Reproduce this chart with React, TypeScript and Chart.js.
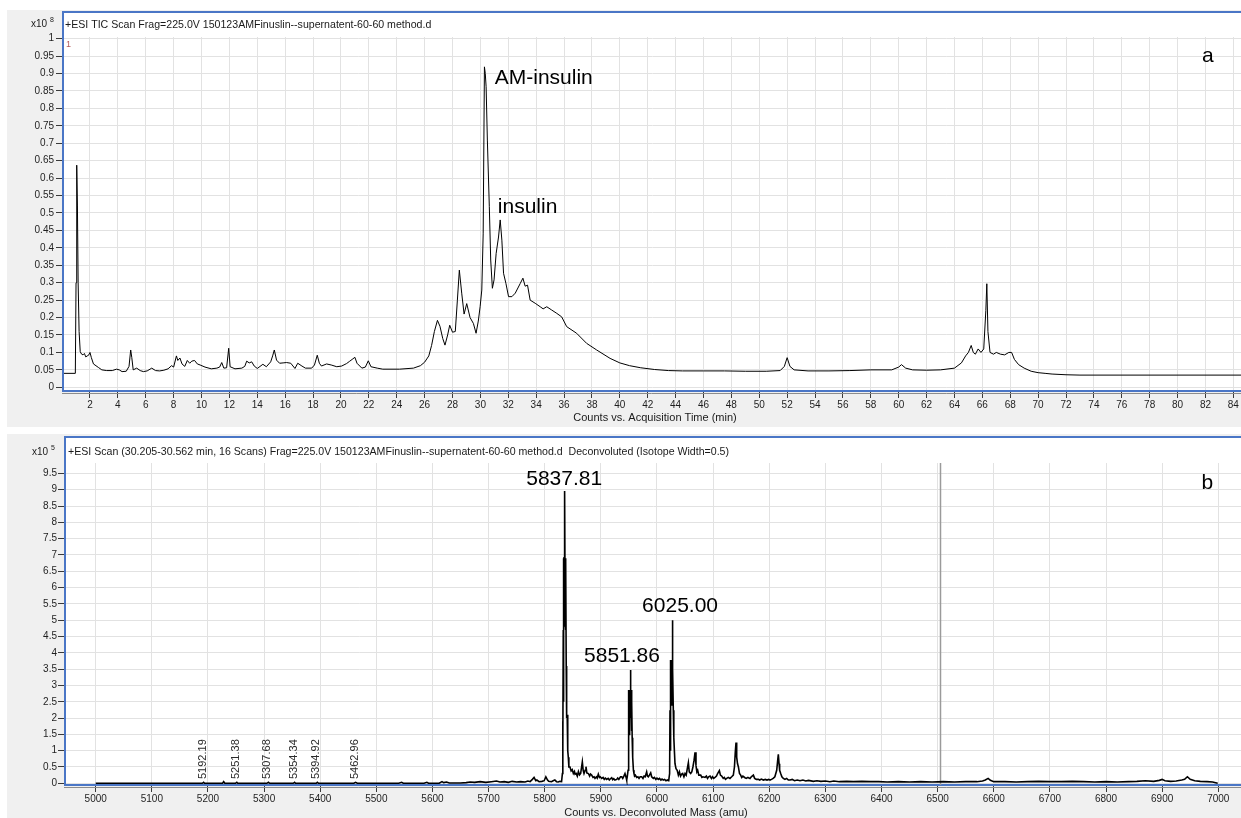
import React, { useEffect, useRef } from 'react';
import { Chart, registerables } from 'chart.js';

Chart.register(...registerables);

const FONT = '"Liberation Sans", Arial, Helvetica, sans-serif';
const BLUE = '#4a76c6';
const GRID = '#e2e2e2';
const PANEL_BG = '#f0f0f0';

// ---------- Panel a : TIC chromatogram (counts x10^8 vs time, min)
const ticTimes = [
  0, 0.95, 1.0, 1.05, 1.1, 1.15, 1.22, 1.3, 1.4, 1.5, 1.6, 1.7, 1.8, 1.9, 2.0, 2.1, 2.25, 2.6, 2.85, 3.2,
  3.6, 3.9, 4.1, 4.3, 4.6, 4.8, 4.92, 5.0, 5.1, 5.35, 5.6, 5.83, 6.1, 6.43, 6.7, 7.0, 7.3, 7.6, 7.85, 8.0,
  8.2, 8.3, 8.45, 8.6, 8.8, 8.98, 9.15, 9.3, 9.5, 9.7, 9.9, 10.25, 10.7, 11.1, 11.3, 11.45, 11.6, 11.8, 11.95, 12.05,
  12.4, 12.89, 13.1, 13.24, 13.42, 13.6, 13.78, 14.0, 14.4, 14.65, 14.96, 15.1, 15.22, 15.38, 15.6, 15.85, 16.1, 16.4, 16.7, 16.9,
  17.2, 17.45, 17.9, 18.1, 18.3, 18.45, 18.6, 18.97, 19.3, 19.7, 20.05, 20.4, 20.6, 20.8, 21.0, 21.15, 21.5, 21.75, 21.96, 22.15,
  22.6, 23.0, 24.2, 25.2, 25.7, 26.0, 26.3, 26.5, 26.7, 26.92, 27.1, 27.3, 27.46, 27.65, 27.8, 28.0, 28.2, 28.35, 28.49, 28.66,
  28.83, 29.02, 29.26, 29.5, 29.69, 29.85, 29.98, 30.1, 30.2, 30.29, 30.35, 30.41, 30.5, 30.64, 30.74, 30.86, 30.98, 31.13, 31.3, 31.42,
  31.54, 31.66, 31.83, 32.02, 32.26, 32.5, 32.86, 33.05, 33.21, 33.38, 33.57, 33.93, 34.29, 34.5, 34.76, 35.1, 35.48, 35.83, 36.19, 36.9,
  37.62, 38.34, 39.3, 40.0, 40.7, 41.5, 42.5, 43.5, 44.5, 46.0, 47.5, 49.0, 50.5, 51.5, 51.8, 52.0, 52.2, 52.5, 53.5, 55.0,
  56.5, 58.0, 59.5, 60.0, 60.2, 60.5, 61.0, 62.0, 63.0, 64.0, 64.5, 64.8, 65.0, 65.2, 65.35, 65.5, 65.7, 65.9, 66.1, 66.25,
  66.32, 66.4, 66.55, 66.8, 67.0, 67.3, 67.6, 67.9, 68.1, 68.3, 68.6, 69.0, 69.5, 70.0, 70.5, 71.0, 72.0, 73.0, 84.55,
];
const ticCounts = [
  0.04, 0.04, 0.3, 0.637, 0.52, 0.3, 0.16, 0.102, 0.095, 0.093, 0.097, 0.087, 0.09, 0.092, 0.1, 0.085, 0.067, 0.057, 0.05, 0.048,
  0.048, 0.052, 0.05, 0.045, 0.046, 0.06, 0.107, 0.085, 0.05, 0.055, 0.048, 0.045, 0.047, 0.055, 0.048, 0.047, 0.049, 0.053, 0.062, 0.058,
  0.09, 0.077, 0.084, 0.067, 0.06, 0.077, 0.069, 0.075, 0.077, 0.067, 0.064, 0.058, 0.053, 0.055, 0.058, 0.071, 0.055, 0.056, 0.112, 0.059,
  0.053, 0.055, 0.06, 0.075, 0.07, 0.073, 0.061, 0.054, 0.066, 0.059, 0.073, 0.09, 0.107, 0.078, 0.069, 0.07, 0.071, 0.069, 0.054, 0.069,
  0.061, 0.055, 0.055, 0.064, 0.092, 0.069, 0.061, 0.067, 0.064, 0.059, 0.061, 0.068, 0.074, 0.08, 0.086, 0.069, 0.055, 0.058, 0.076, 0.059,
  0.055, 0.052, 0.052, 0.055, 0.062, 0.072, 0.09, 0.12, 0.16, 0.192, 0.175, 0.14, 0.121, 0.15, 0.178, 0.158, 0.16, 0.25, 0.336, 0.27,
  0.21, 0.24, 0.2, 0.183, 0.155, 0.19, 0.231, 0.279, 0.44, 0.919, 0.9, 0.862, 0.709, 0.518, 0.365, 0.284, 0.308, 0.384, 0.431, 0.48,
  0.422, 0.327, 0.298, 0.26, 0.26, 0.27, 0.298, 0.313, 0.29, 0.293, 0.25, 0.241, 0.231, 0.225, 0.231, 0.222, 0.212, 0.202, 0.174, 0.155,
  0.126, 0.107, 0.083, 0.07, 0.062, 0.056, 0.051, 0.048, 0.047, 0.047, 0.047, 0.046, 0.046, 0.048, 0.06, 0.085, 0.06, 0.05, 0.047, 0.047,
  0.048, 0.05, 0.05, 0.058, 0.065, 0.055, 0.05, 0.049, 0.05, 0.055, 0.07, 0.09, 0.1, 0.12, 0.1, 0.095, 0.11, 0.1, 0.11, 0.22,
  0.297, 0.16, 0.1, 0.095, 0.1, 0.095, 0.093, 0.1, 0.1, 0.08, 0.065, 0.055, 0.046, 0.042, 0.04, 0.038, 0.036, 0.035, 0.035,
];
const ticXTickLabels = [
  '2', '4', '6', '8', '10', '12', '14', '16', '18', '20', '22', '24', '26', '28', '30', '32', '34', '36', '38', '40', '42',
  '44', '46', '48', '50', '52', '54', '56', '58', '60', '62', '64', '66', '68', '70', '72', '74', '76', '78', '80', '82', '84',
];
const ticYTickLabels = [
  '0', '0.05', '0.1', '0.15', '0.2', '0.25', '0.3', '0.35', '0.4', '0.45', '0.5', '0.55', '0.6', '0.65', '0.7', '0.75',
  '0.8', '0.85', '0.9', '0.95', '1',
];
const ticTitle = '+ESI TIC Scan Frag=225.0V 150123AMFinuslin--supernatent-60-60 method.d';
const ticXTitle = 'Counts vs. Acquisition Time (min)';
const ticExponent = '8';
const ticAnnotText = ['AM-insulin', 'insulin', 'a'];
const ticAnnotTime = [31.03, 31.25, 81.75];
const ticAnnotCount = [0.869, 0.5, 0.933];

// ---------- Panel b : deconvoluted mass spectrum (counts x10^5 vs mass, amu)
const massAmu = [
  5000, 5190, 5192.2, 5194, 5226, 5228, 5230, 5249, 5251.4, 5253, 5305, 5307.7, 5310, 5352, 5354.3, 5356, 5393, 5394.9, 5397, 5460,
  5463, 5466, 5540, 5545, 5548, 5585, 5590, 5593, 5612, 5617, 5620, 5625, 5630, 5650, 5660, 5667, 5675, 5685, 5695, 5705,
  5714, 5720, 5728, 5735, 5742, 5750, 5757, 5765, 5770, 5774, 5778, 5781, 5784, 5786, 5790, 5795, 5799, 5802, 5805, 5807,
  5812, 5815, 5818, 5821, 5824, 5827, 5830, 5831.5, 5832, 5832.5, 5833, 5833.3, 5833.6, 5834, 5834.4, 5834.8, 5835.2, 5835.6, 5836.1, 5836.5,
  5836.9, 5837.3, 5837.8, 5838.3, 5838.8, 5839.3, 5840, 5841, 5842, 5843, 5845, 5847, 5849, 5851, 5853, 5854, 5856, 5858, 5860, 5862,
  5864, 5867, 5868.5, 5870, 5872, 5873.5, 5875, 5877.7, 5880, 5881.5, 5883.6, 5886, 5888, 5889.6, 5892, 5893.5, 5895.5, 5897.5, 5899, 5901.5,
  5904, 5906, 5908, 5910.4, 5913, 5915, 5917, 5919.3, 5921, 5923, 5925, 5928.2, 5930, 5932, 5935, 5937.1, 5939, 5941, 5943, 5945,
  5946, 5947, 5948.5, 5949, 5949.5, 5950, 5950.5, 5951, 5951.5, 5952, 5952.5, 5953.1, 5953.6, 5954.1, 5954.6, 5955.2, 5955.8, 5956.7, 5958, 5959,
  5960, 5961.5, 5963.8, 5966, 5968, 5970, 5972.7, 5975, 5977, 5979, 5981.6, 5983, 5984.6, 5986.5, 5988.8, 5990.5, 5993.5, 5995.5, 5998, 6000,
  6002.4, 6004.5, 6007, 6009, 6011.3, 6013.5, 6016, 6018.5, 6020.2, 6021, 6022.5, 6023.2, 6023.7, 6024.2, 6024.7, 6025.2, 6025.8, 6026.3, 6026.8, 6027.3,
  6027.8, 6028.3, 6029.1, 6030, 6031, 6032.1, 6033.9, 6036, 6038.1, 6040, 6042, 6044, 6045.8, 6048, 6050, 6052, 6054, 6055.9, 6057.5, 6060,
  6062, 6064, 6066, 6067.8, 6069.5, 6071, 6072.5, 6074.5, 6077.9, 6080, 6082, 6085.6, 6088, 6090, 6092, 6094.5, 6097, 6099, 6101, 6103.4,
  6106, 6108, 6111.1, 6113, 6115.3, 6118, 6120, 6122, 6124.2, 6127, 6130, 6133.1, 6136, 6138, 6139.5, 6140.8, 6142, 6143.5, 6145, 6147,
  6149.1, 6151, 6153, 6156.8, 6159, 6162, 6165.7, 6168, 6171.7, 6174, 6177, 6180.6, 6183, 6186, 6189.5, 6193, 6196, 6199, 6201.4, 6204,
  6207, 6210, 6213.3, 6215, 6216.2, 6217.5, 6218.5, 6220.4, 6222.5, 6225.1, 6228, 6231, 6234, 6237, 6241, 6245, 6250, 6254.8, 6260, 6265,
  6270, 6278.6, 6285, 6292, 6300, 6308, 6315, 6325, 6338, 6350, 6365, 6380, 6395, 6410, 6430, 6450, 6470, 6490, 6510, 6530,
  6550, 6570, 6580, 6585, 6590, 6594, 6600, 6620, 6640, 6660, 6680, 6700, 6720, 6740, 6760, 6780, 6800, 6820, 6840, 6855,
  6870, 6885, 6895, 6900, 6905, 6915, 6925, 6935, 6940, 6945, 6950, 6958, 6968, 6980, 6990, 6999,
];
const massCounts = [
  0, 0, 0.03, 0, 0, 0.05, 0, 0, 0.03, 0, 0, 0.03, 0, 0, 0.03, 0, 0, 0.03, 0, 0,
  0.03, 0, 0, 0.03, 0, 0, 0.03, 0, 0, 0.05, 0.02, 0.04, 0.01, 0.01, 0.02, 0.04, 0.03, 0.05, 0.03, 0.05,
  0.07, 0.04, 0.05, 0.03, 0.06, 0.04, 0.05, 0.04, 0.07, 0.05, 0.12, 0.18, 0.08, 0.1, 0.05, 0.06, 0.08, 0.2, 0.1, 0.06,
  0.05, 0.08, 0.1, 0.05, 0.04, 0.06, 0.05, 0.3, 1.9, 1.2, 4.7, 2.5, 6.9, 4.6, 6.94, 5.0, 6.9, 4.8, 8.96, 5.0,
  6.9, 4.7, 6.8, 3.6, 3.5, 2.0, 2.1, 1.0, 0.8, 0.5, 0.5, 0.38, 0.42, 0.3, 0.36, 0.28, 0.3, 0.22, 0.36, 0.26,
  0.3, 0.66, 0.4, 0.3, 0.4, 0.51, 0.32, 0.3, 0.22, 0.28, 0.25, 0.18, 0.2, 0.15, 0.2, 0.16, 0.28, 0.18, 0.2, 0.15,
  0.18, 0.12, 0.16, 0.12, 0.15, 0.1, 0.14, 0.17, 0.11, 0.14, 0.1, 0.12, 0.16, 0.12, 0.2, 0.2, 0.15, 0.22, 0.3, 0.18,
  0.1, 0.2, 0.4, 1.4, 0.9, 2.86, 1.5, 2.8, 1.6, 2.86, 2.0, 3.47, 2.2, 2.86, 1.6, 2.5, 1.4, 0.8, 0.4, 0.3,
  0.22, 0.25, 0.18, 0.2, 0.15, 0.2, 0.2, 0.15, 0.22, 0.2, 0.35, 0.22, 0.2, 0.25, 0.32, 0.2, 0.15, 0.18, 0.12, 0.16,
  0.12, 0.15, 0.1, 0.13, 0.1, 0.12, 0.08, 0.1, 0.08, 0.1, 0.3, 2.24, 1.0, 3.78, 2.3, 3.7, 2.5, 3.78, 2.4, 5.0,
  2.6, 3.5, 2.24, 1.4, 1.0, 0.6, 0.45, 0.4, 0.25, 0.35, 0.22, 0.28, 0.3, 0.2, 0.3, 0.25, 0.45, 0.63, 0.35, 0.3,
  0.35, 0.5, 0.7, 0.95, 0.55, 0.35, 0.4, 0.25, 0.25, 0.18, 0.2, 0.18, 0.22, 0.15, 0.2, 0.22, 0.15, 0.2, 0.15, 0.18,
  0.22, 0.3, 0.39, 0.25, 0.22, 0.15, 0.18, 0.12, 0.15, 0.18, 0.15, 0.2, 0.25, 0.5, 0.95, 1.25, 0.8, 0.6, 0.51, 0.3,
  0.25, 0.18, 0.22, 0.17, 0.15, 0.18, 0.15, 0.2, 0.25, 0.15, 0.12, 0.12, 0.1, 0.13, 0.1, 0.12, 0.1, 0.12, 0.1, 0.12,
  0.15, 0.2, 0.4, 0.7, 0.89, 0.6, 0.4, 0.3, 0.2, 0.15, 0.12, 0.15, 0.1, 0.1, 0.12, 0.08, 0.1, 0.08, 0.1, 0.07,
  0.09, 0.06, 0.08, 0.06, 0.07, 0.05, 0.07, 0.05, 0.06, 0.05, 0.06, 0.05, 0.05, 0.04, 0.05, 0.04, 0.05, 0.04, 0.05, 0.04,
  0.05, 0.05, 0.07, 0.1, 0.15, 0.09, 0.05, 0.05, 0.04, 0.05, 0.06, 0.05, 0.05, 0.06, 0.05, 0.04, 0.05, 0.04, 0.05, 0.06,
  0.08, 0.06, 0.09, 0.12, 0.08, 0.06, 0.07, 0.1, 0.12, 0.2, 0.12, 0.08, 0.06, 0.05, 0.04, 0,
];
const massXTickLabels = [
  '5000', '5100', '5200', '5300', '5400', '5500', '5600', '5700', '5800', '5900', '6000', '6100', '6200', '6300', '6400',
  '6500', '6600', '6700', '6800', '6900', '7000',
];
const massYTickLabels = [
  '0', '0.5', '1', '1.5', '2', '2.5', '3', '3.5', '4', '4.5', '5', '5.5', '6', '6.5', '7', '7.5', '8', '8.5', '9', '9.5',
];
const massTitle =
  '+ESI Scan (30.205-30.562 min, 16 Scans) Frag=225.0V 150123AMFinuslin--supernatent-60-60 method.d  Deconvoluted (Isotope Width=0.5)';
const massXTitle = 'Counts vs. Deconvoluted Mass (amu)';
const massExponent = '5';
const massAnnotText = ['5837.81', '6025.00', '5851.86', 'b'];
const massAnnotAmu = [5767, 5973.5, 5870, 6970];
const massAnnotCount = [9.14, 5.25, 3.72, 9.02];
const massSmallLabels = ['5192.19', '5251.38', '5307.68', '5354.34', '5394.92', '5462.96'];
const massMarker = 6505;

type PanelCfg = {
  id: string;
  frameTop: number;
  title: string;
  titleSize: number;
  titleDx: number;
  titleBaseline: number;
  exponent: string;
  expRight: number;
  expBaseline: number;
  xTitle: string;
  xTitleBaseline: number;
  annotText: string[];
  annotX: number[];
  annotY: number[];
  smallLabels?: string[];
  marker?: number;
  cornerMark?: boolean;
};

function panelPlugin(cfg: PanelCfg) {
  return {
    id: 'panel' + cfg.id,
    beforeDraw(chart: any) {
      const { ctx, chartArea: ca, width, height } = chart;
      ctx.save();
      ctx.fillStyle = PANEL_BG;
      ctx.fillRect(0, 0, width, height);
      ctx.fillStyle = '#ffffff';
      ctx.fillRect(ca.left, cfg.frameTop, width - ca.left, ca.bottom - cfg.frameTop);
      ctx.restore();
    },
    beforeDatasetsDraw(chart: any) {
      if (cfg.marker === undefined) return;
      const { ctx, chartArea: ca, scales } = chart;
      const px = Math.round(scales.x.getPixelForValue(cfg.marker)) + 0.5;
      ctx.save();
      ctx.strokeStyle = '#9a9a9a';
      ctx.lineWidth = 1.5;
      ctx.beginPath();
      ctx.moveTo(px, ca.top);
      ctx.lineTo(px, ca.bottom);
      ctx.stroke();
      ctx.restore();
    },
    afterDraw(chart: any) {
      const { ctx, chartArea: ca, width, scales } = chart;
      ctx.save();
      ctx.strokeStyle = BLUE;
      ctx.lineWidth = 2;
      ctx.beginPath();
      ctx.moveTo(ca.left - 1, cfg.frameTop + 1);
      ctx.lineTo(width, cfg.frameTop + 1);
      ctx.stroke();
      ctx.beginPath();
      ctx.moveTo(ca.left, cfg.frameTop);
      ctx.lineTo(ca.left, ca.bottom + 1);
      ctx.stroke();
      ctx.strokeStyle = '#8c8c8c';
      ctx.lineWidth = 1;
      ctx.beginPath();
      ctx.moveTo(ca.left - 1, ca.bottom + 2.5);
      ctx.lineTo(width, ca.bottom + 2.5);
      ctx.stroke();

      ctx.fillStyle = '#1a1a1a';
      ctx.font = `${cfg.titleSize}px ${FONT}`;
      ctx.textAlign = 'left';
      ctx.textBaseline = 'alphabetic';
      ctx.fillText(cfg.title, ca.left + cfg.titleDx, cfg.titleBaseline);
      ctx.font = `10px ${FONT}`;
      ctx.textAlign = 'right';
      ctx.fillText('x10', cfg.expRight, cfg.expBaseline);
      ctx.font = `7px ${FONT}`;
      ctx.textAlign = 'left';
      ctx.fillText(cfg.exponent, cfg.expRight + 3, cfg.expBaseline - 5);

      ctx.font = `11px ${FONT}`;
      ctx.textAlign = 'center';
      ctx.fillText(cfg.xTitle, (ca.left + ca.right) / 2 + 3, cfg.xTitleBaseline);

      if (cfg.cornerMark) {
        ctx.fillStyle = '#b35a5a';
        ctx.font = `9px ${FONT}`;
        ctx.textAlign = 'left';
        ctx.fillText('1', ca.left + 3, ca.top + 10);
      }

      if (cfg.smallLabels) {
        ctx.fillStyle = '#2a2a2a';
        ctx.font = `11px ${FONT}`;
        cfg.smallLabels.forEach((lab) => {
          const px = scales.x.getPixelForValue(parseFloat(lab)) - 1;
          ctx.save();
          ctx.translate(px, ca.bottom - 6);
          ctx.rotate(-Math.PI / 2);
          ctx.textAlign = 'left';
          ctx.textBaseline = 'middle';
          ctx.fillText(lab, 0, 0);
          ctx.restore();
        });
      }

      ctx.fillStyle = '#000000';
      ctx.font = `21px ${FONT}`;
      ctx.textAlign = 'left';
      ctx.textBaseline = 'alphabetic';
      cfg.annotText.forEach((t, i) => {
        ctx.fillText(t, scales.x.getPixelForValue(cfg.annotX[i]), scales.y.getPixelForValue(cfg.annotY[i]));
      });
      ctx.restore();
    },
  };
}

function axisOptions(labels: string[], min: number, max: number, size: number, horizontal: boolean, padding: number) {
  return {
    type: 'linear' as const,
    min,
    max,
    afterBuildTicks: (s: any) => {
      s.ticks = labels.map((l) => ({ value: parseFloat(l) }));
    },
    afterFit: (s: any) => {
      if (horizontal) s.height = size;
      else s.width = size;
    },
    grid: { color: GRID, lineWidth: 1, tickColor: '#3a3a3a', tickLength: 7, drawTicks: true },
    border: { display: true, color: BLUE, width: 2 },
    ticks: {
      autoSkip: false,
      maxRotation: 0,
      minRotation: 0,
      padding,
      color: '#1e1e1e',
      font: { family: FONT, size: 10 },
      callback: (_v: any, i: number) => labels[i],
    },
  };
}

export default function App() {
  const refA = useRef<HTMLCanvasElement>(null);
  const refB = useRef<HTMLCanvasElement>(null);

  useEffect(() => {
    const chartA = new Chart(refA.current as HTMLCanvasElement, {
      type: 'line',
      data: {
        datasets: [
          {
            data: ticTimes.map((t, i) => ({ x: t, y: ticCounts[i] })),
            borderColor: '#000000',
            borderWidth: 1,
            pointRadius: 0,
            tension: 0,
            fill: false,
          },
        ],
      },
      options: {
        animation: false,
        responsive: false,
        maintainAspectRatio: false,
        layout: { padding: { top: 27, left: 0, right: 0, bottom: 0 } },
        plugins: { legend: { display: false }, tooltip: { enabled: false }, title: { display: false } },
        scales: {
          x: axisOptions(ticXTickLabels, 0.065, 84.55, 36, true, 1),
          y: axisOptions(ticYTickLabels, -0.0106, 1.0046, 56, false, 2),
        },
      } as any,
      plugins: [
        panelPlugin({
          id: 'a',
          frameTop: 1,
          title: ticTitle,
          titleSize: 10.6,
          titleDx: 2,
          titleBaseline: 18,
          exponent: ticExponent,
          expRight: 40,
          expBaseline: 17,
          xTitle: ticXTitle,
          xTitleBaseline: 411,
          annotText: ticAnnotText,
          annotX: ticAnnotTime,
          annotY: ticAnnotCount,
          cornerMark: true,
        }),
      ],
    });

    const chartB = new Chart(refB.current as HTMLCanvasElement, {
      type: 'line',
      data: {
        datasets: [
          {
            data: massAmu.map((m, i) => ({ x: m, y: massCounts[i] })),
            borderColor: '#000000',
            borderWidth: 1.6,
            pointRadius: 0,
            tension: 0,
            fill: false,
          },
        ],
      },
      options: {
        animation: false,
        responsive: false,
        maintainAspectRatio: false,
        layout: { padding: { top: 29, left: 0, right: 0, bottom: 0 } },
        plugins: { legend: { display: false }, tooltip: { enabled: false }, title: { display: false } },
        scales: {
          x: axisOptions(massXTickLabels, 4945.3, 7040.5, 33, true, 1),
          y: axisOptions(massYTickLabels, -0.052, 9.82, 58, false, 1),
        },
      } as any,
      plugins: [
        panelPlugin({
          id: 'b',
          frameTop: 2,
          title: massTitle,
          titleSize: 10.6,
          titleDx: 3,
          titleBaseline: 21,
          exponent: massExponent,
          expRight: 41,
          expBaseline: 21,
          xTitle: massXTitle,
          xTitleBaseline: 382,
          annotText: massAnnotText,
          annotX: massAnnotAmu,
          annotY: massAnnotCount,
          smallLabels: massSmallLabels,
          marker: massMarker,
        }),
      ],
    });

    return () => {
      chartA.destroy();
      chartB.destroy();
    };
  }, []);

  return (
    <div
      style={{
        position: 'absolute',
        left: 0,
        top: 0,
        width: 1241,
        height: 818,
        background: '#ffffff',
        overflow: 'hidden',
      }}
    >
      <canvas
        ref={refA}
        width={1234}
        height={417}
        style={{ position: 'absolute', left: 7, top: 10, width: 1234, height: 417 }}
      />
      <canvas
        ref={refB}
        width={1234}
        height={384}
        style={{ position: 'absolute', left: 7, top: 434, width: 1234, height: 384 }}
      />
    </div>
  );
}
